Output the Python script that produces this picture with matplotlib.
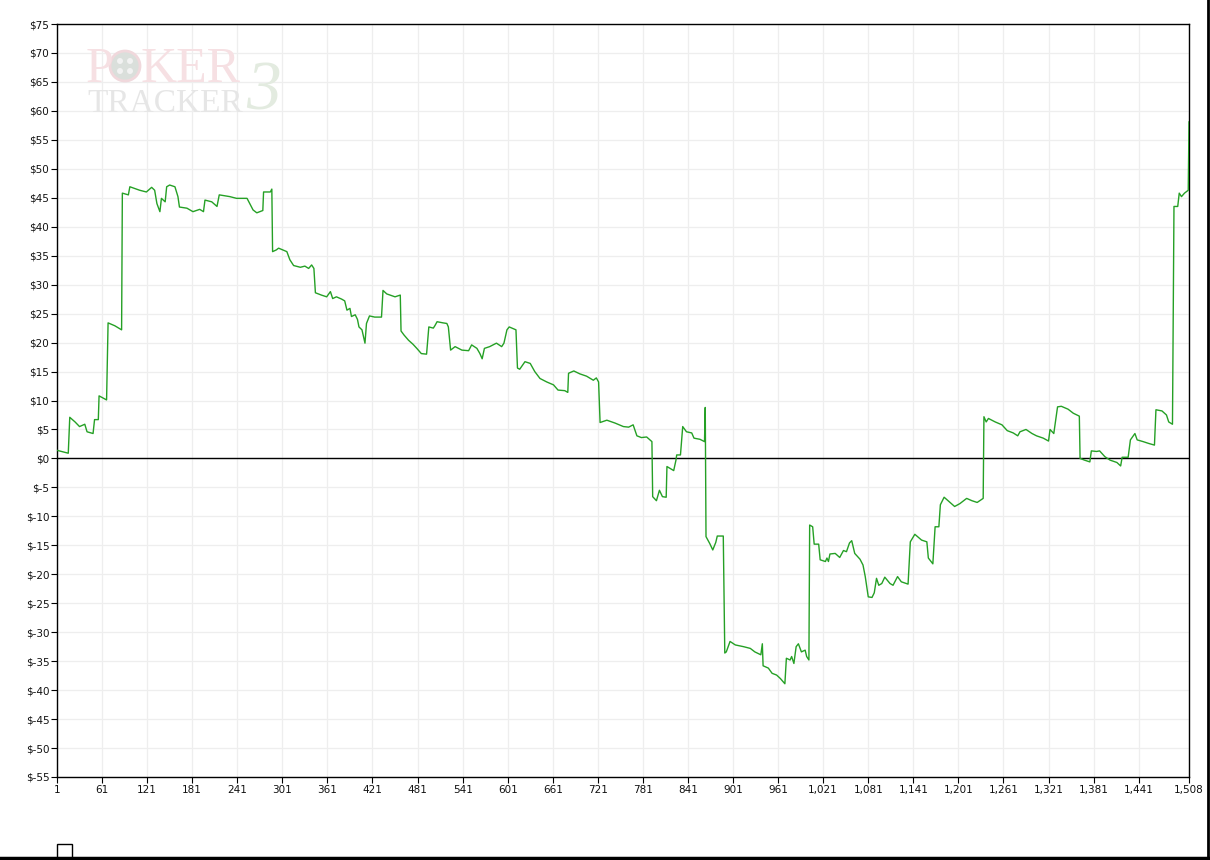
import matplotlib
matplotlib.use("Agg")
import matplotlib.pyplot as plt
from matplotlib.patches import Ellipse, Rectangle
from matplotlib.lines import Line2D
from matplotlib.ticker import FixedLocator, FuncFormatter

hands = [
    1, 16, 18, 25, 31, 38, 41, 49, 51, 56,
    57, 67, 69, 78, 87, 88, 96, 98, 111, 120,
    127, 131, 134, 138, 140, 145, 147, 151, 158, 162,
    164, 174, 182, 191, 196, 198, 207, 214, 217, 231,
    240, 254, 262, 267, 275, 276, 285, 287, 288, 293,
    296, 307, 311, 316, 325, 331, 336, 340, 343, 345,
    353, 360, 365, 368, 373, 380, 384, 387, 391, 393,
    398, 401, 403, 407, 411, 413, 417, 424, 433, 435,
    440, 451, 458, 459, 463, 469, 475, 480, 486, 493,
    496, 502, 504, 507, 515, 520, 522, 525, 531, 540,
    549, 553, 560, 564, 567, 570, 577, 586, 593, 596,
    600, 603, 612, 614, 617, 624, 631, 637, 644, 653,
    662, 668, 677, 681, 682, 689, 697, 706, 715, 719,
    722, 724, 733, 744, 755, 762, 768, 773, 779, 786,
    793, 794, 799, 803, 807, 812, 813, 822, 825, 826,
    831, 834, 839, 846, 849, 857, 863, 864, 865, 870,
    874, 878, 880, 888, 890, 892, 897, 904, 915, 924,
    930, 938, 940, 941, 948, 953, 959, 964, 970, 972,
    977, 979, 982, 985, 988, 992, 997, 999, 1002, 1003,
    1007, 1009, 1015, 1017, 1024, 1026, 1028, 1030, 1037, 1043,
    1048, 1052, 1056, 1059, 1063, 1070, 1074, 1077, 1081, 1086,
    1089, 1092, 1095, 1099, 1103, 1110, 1114, 1120, 1125, 1134,
    1137, 1143, 1152, 1159, 1161, 1167, 1170, 1175, 1177, 1182,
    1190, 1196, 1203, 1212, 1219, 1226, 1234, 1235, 1238, 1241,
    1250, 1259, 1266, 1274, 1280, 1283, 1291, 1299, 1305, 1314,
    1321, 1323, 1328, 1333, 1338, 1347, 1354, 1362, 1363, 1369,
    1376, 1378, 1385, 1389, 1396, 1403, 1412, 1417, 1419, 1427,
    1430, 1436, 1439, 1447, 1454, 1462, 1464, 1472, 1478, 1481,
    1486, 1488, 1493, 1495, 1498, 1502, 1507, 1508,
]

profit = [
    1.4, 0.9, 7.1, 6.3, 5.5, 5.9, 4.6, 4.3, 6.7, 6.7,
    10.8, 10.1, 23.4, 22.9, 22.2, 45.8, 45.5, 46.9, 46.3, 46.0,
    46.8, 46.3, 44.0, 42.6, 44.9, 44.3, 46.9, 47.2, 46.9, 45.2,
    43.4, 43.2, 42.6, 43.0, 42.6, 44.6, 44.3, 43.5, 45.5, 45.2,
    44.9, 44.9, 42.9, 42.4, 42.8, 46.0, 46.0, 46.5, 35.7, 36.0,
    36.3, 35.7, 34.3, 33.3, 33.0, 33.2, 32.8, 33.4, 32.8, 28.6,
    28.2, 27.9, 28.8, 27.6, 27.9, 27.5, 27.2, 25.6, 25.9, 24.5,
    24.8, 24.0, 22.7, 22.2, 19.9, 23.3, 24.6, 24.4, 24.4, 29.0,
    28.4, 27.9, 28.2, 22.0, 21.3, 20.4, 19.7, 19.0, 18.1, 18.0,
    22.7, 22.5, 22.9, 23.6, 23.4, 23.3, 22.7, 18.7, 19.3, 18.7,
    18.6, 19.6, 19.0, 18.1, 17.2, 19.0, 19.3, 19.9, 19.3, 19.9,
    22.2, 22.7, 22.2, 15.6, 15.4, 16.7, 16.4, 15.0, 13.8, 13.2,
    12.7, 11.8, 11.7, 11.4, 14.7, 15.1, 14.6, 14.2, 13.5, 13.9,
    13.2, 6.2, 6.6, 6.1, 5.5, 5.4, 5.8, 3.9, 3.6, 3.7,
    2.9, -6.6, -7.3, -5.5, -6.6, -6.7, -1.4, -2.1, -0.3, 0.6,
    0.6, 5.5, 4.6, 4.4, 3.5, 3.3, 2.9, 8.8, -13.5, -14.7,
    -15.8, -14.5, -13.4, -13.4, -33.6, -33.4, -31.6, -32.2, -32.5, -32.8,
    -33.4, -33.9, -32.0, -35.8, -36.2, -37.1, -37.4, -38.0, -38.9, -34.5,
    -34.8, -34.2, -35.4, -32.5, -32.0, -33.4, -33.1, -34.2, -34.8, -11.5,
    -11.8, -14.8, -14.8, -17.5, -17.8, -17.2, -17.8, -16.5, -16.4, -17.1,
    -15.9, -16.1, -14.6, -14.2, -16.4, -17.4, -18.4, -20.4, -23.9, -24.0,
    -23.2, -20.7, -21.9, -21.6, -20.5, -21.6, -21.9, -20.4, -21.3, -21.7,
    -14.4, -13.1, -14.1, -14.4, -17.2, -18.2, -11.8, -11.8, -8.0, -6.7,
    -7.6, -8.3, -7.8, -6.9, -7.3, -7.6, -6.9, 7.2, 6.3, 6.9,
    6.3, 5.8, 4.8, 4.4, 3.9, 4.6, 5.0, 4.3, 3.9, 3.5,
    3.0, 5.0, 4.3, 8.9, 9.0, 8.5, 7.8, 7.3, 0.0, -0.3,
    -0.6, 1.3, 1.2, 1.3, 0.3, -0.3, -0.7, -1.3, 0.2, 0.2,
    3.2, 4.3, 3.2, 2.9, 2.6, 2.3, 8.4, 8.2, 7.5, 6.3,
    5.9, 43.5, 43.5, 45.8, 45.2, 45.8, 46.3, 58.1,
]

x_ticks = [1, 61, 121, 181, 241, 301, 361, 421, 481, 541, 601, 661, 721, 781,
           841, 901, 961, 1021, 1081, 1141, 1201, 1261, 1321, 1381, 1441, 1508]
y_ticks = list(range(-55, 80, 5))

W, H = 1210, 860
fig = plt.figure(figsize=(W / 100, H / 100), dpi=100)
fig.patch.set_facecolor("white")

def fx(px):
    return px / W

def fy(py):
    return 1 - py / H

ax = fig.add_axes([fx(57), fy(777), fx(1189) - fx(57), fy(24) - fy(777)])
ax.set_xlim(1, 1508)
ax.set_ylim(-55, 75)

ax.xaxis.set_major_locator(FixedLocator(x_ticks))
ax.yaxis.set_major_locator(FixedLocator(y_ticks))
ax.xaxis.set_major_formatter(FuncFormatter(lambda v, p: f"{int(round(v)):,}"))
ax.yaxis.set_major_formatter(FuncFormatter(lambda v, p: f"${int(round(v))}"))

ax.grid(True, color="#eeeeee", linewidth=0.9)
ax.set_axisbelow(True)
for s in ax.spines.values():
    s.set_color("black")
    s.set_linewidth(1.0)

ax.tick_params(axis="both", direction="out", length=4, width=0.8, color="black",
               labelsize=7.5, pad=1.5, labelcolor="#111111")
for lab in ax.get_xticklabels() + ax.get_yticklabels():
    lab.set_family("DejaVu Sans")

ax.axhline(0, color="black", linewidth=1.0, zorder=2)
ax.plot(hands, profit, color="#25a025", linewidth=1.0, zorder=3)

# watermark
serif = "Liberation Serif"
fig.text(fx(86), fy(82), "P", fontsize=36, family=serif, color="#f6e0e3",
         ha="left", va="baseline", zorder=0)
fig.patches.append(Ellipse((fx(125), fy(66)), 30 / W, 30 / H,
                           transform=fig.transFigure, facecolor="#dadfdb",
                           edgecolor="#f0d8dc", linewidth=2, zorder=0))
for dx, dy in [(-5, -5), (5, -5), (-5, 5), (5, 5)]:
    fig.patches.append(Ellipse((fx(125 + dx), fy(66 + dy)), 6 / W, 6 / H,
                               transform=fig.transFigure, facecolor="#f2f2f2",
                               edgecolor="none", zorder=0))
fig.text(fx(141), fy(82), "KER", fontsize=36, family=serif, color="#f6e0e3",
         ha="left", va="baseline", zorder=0)
fig.text(fx(87), fy(112), "TRACKER", fontsize=24, family=serif, color="#e6e6e6",
         ha="left", va="baseline", zorder=0)
fig.text(fx(246), fy(110), "3", fontsize=50, family=serif, color="#e3ebe0",
         ha="left", va="baseline", zorder=0, style="italic")

# legend box and window border
fig.patches.append(Rectangle((fx(57), fy(858)), 15 / W, 14 / H,
                             transform=fig.transFigure, facecolor="white",
                             edgecolor="black", linewidth=1.0))
fig.lines.append(Line2D([fx(1208), fx(1208)], [0, 1], transform=fig.transFigure,
                        color="black", linewidth=2))
fig.lines.append(Line2D([0, 1], [fy(858), fy(858)], transform=fig.transFigure,
                        color="black", linewidth=2.5))

fig.savefig("out.png", dpi=100)
